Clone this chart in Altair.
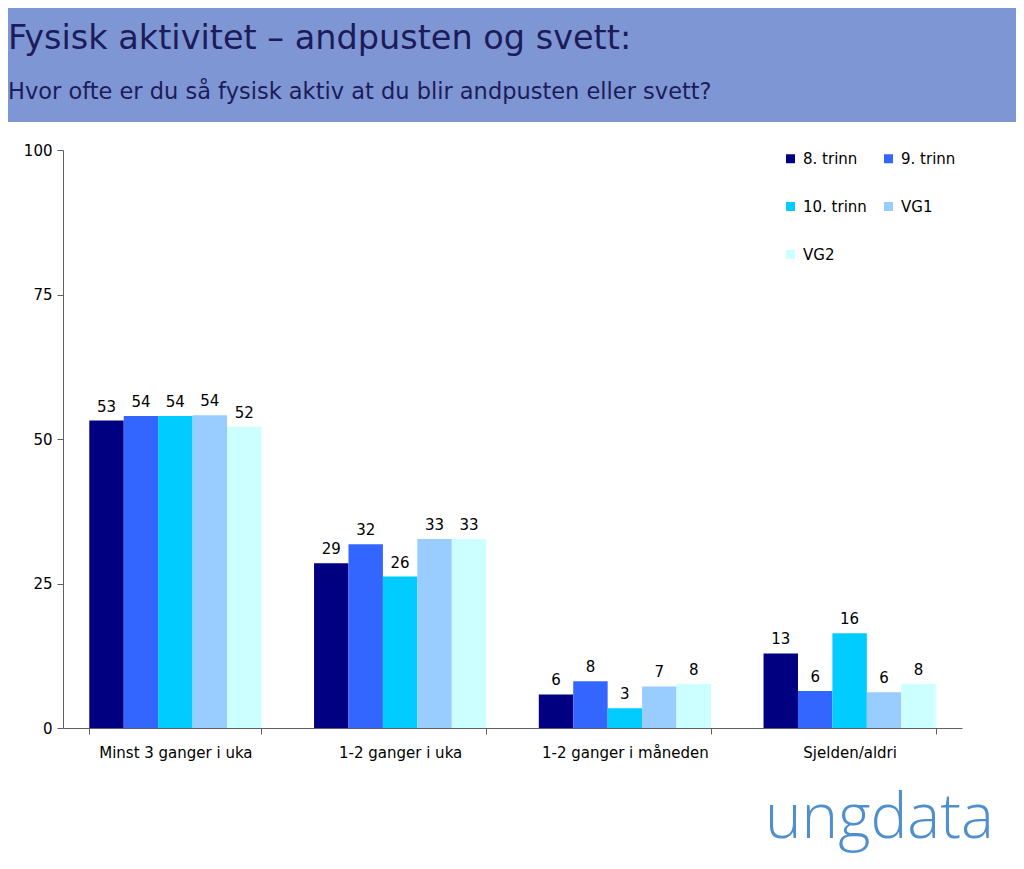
import altair as alt
import pandas as pd

categories = ["Minst 3 ganger i uka", "1-2 ganger i uka", "1-2 ganger i måneden", "Sjelden/aldri"]
series = ["8. trinn", "9. trinn", "10. trinn", "VG1", "VG2"]
colors = ["#000080", "#3366ff", "#00ccff", "#99ccff", "#ccffff"]

v_8 = [53.2, 28.5, 5.8, 12.9]
v_9 = [54.0, 31.8, 8.1, 6.4]
v_10 = [54.0, 26.2, 3.4, 16.4]
v_vg1 = [54.1, 32.7, 7.2, 6.2]
v_vg2 = [52.1, 32.7, 7.6, 7.6]

title_text = "Fysisk aktivitet – andpusten og svett:"
subtitle_text = "Hvor ofte er du så fysisk aktiv at du blir andpusten eller svett?"
logo_text = "ungdata"

rows = []
for s, vals in zip(series, [v_8, v_9, v_10, v_vg1, v_vg2]):
    for c, v in zip(categories, vals):
        rows.append({"category": c, "series": s, "value": v})
df = pd.DataFrame(rows)

FONT = "DejaVu Sans"

base = alt.Chart(df)

x_enc = alt.X("category:N", sort=categories,
              scale=alt.Scale(paddingInner=0.234, paddingOuter=0.117),
              axis=alt.Axis(title=None, labelAngle=0, tickBand="extent"))
xo_enc = alt.XOffset("series:N", sort=series, scale=alt.Scale(paddingInner=0, paddingOuter=0))
y_enc = alt.Y("value:Q", scale=alt.Scale(domain=[0, 100]),
              axis=alt.Axis(title=None, values=[0, 25, 50, 75, 100], grid=False))

bars = base.mark_bar().encode(
    x=x_enc, xOffset=xo_enc, y=y_enc,
    color=alt.Color("series:N", sort=series,
                    scale=alt.Scale(domain=series, range=colors),
                    legend=alt.Legend(title=None, orient="none", legendX=720, legendY=1,
                                      direction="horizontal", columns=2,
                                      symbolType="square", symbolSize=81,
                                      symbolStrokeWidth=0, labelFont=FONT, labelFontSize=15,
                                      labelColor="#000000", labelOffset=5,
                                      rowPadding=32, columnPadding=14)),
)

labels = base.mark_text(baseline="alphabetic", dy=-9, font=FONT, fontSize=15, color="#000000").encode(
    x=x_enc, xOffset=xo_enc, y=y_enc,
    text=alt.Text("value:Q", format=".0f"),
)

one = alt.Data(values=[{"k": 1}])

header = alt.Chart(one).mark_rect(color="#7f96d4").encode(
    x=alt.value(-55), x2=alt.value(953), y=alt.value(-142), y2=alt.value(-28)
)
title = alt.Chart(one).mark_text(align="left", baseline="alphabetic", font=FONT,
                                 fontSize=33.5, color="#1c1c5a").encode(
    x=alt.value(-55), y=alt.value(-101), text=alt.value(title_text)
)
subtitle = alt.Chart(one).mark_text(align="left", baseline="alphabetic", font=FONT,
                                    fontSize=22.5, color="#1c1c5a").encode(
    x=alt.value(-55), y=alt.value(-51), text=alt.value(subtitle_text)
)
logo = alt.Chart(one).mark_text(align="left", baseline="alphabetic", font="Open Sans",
                                fontWeight=300, fontSize=62, color="#4f8fcd").encode(
    x=alt.value(702), y=alt.value(688), text=alt.value(logo_text)
)

chart = alt.layer(header, title, subtitle, bars, labels, logo).properties(
    width=899, height=578,
    autosize=alt.AutoSizeParams(type="none"),
    padding={"left": 55, "top": 142, "right": 54, "bottom": 133},
).configure_view(stroke=None).configure_axis(
    labelFont=FONT, labelFontSize=15, labelColor="#000000",
    domainColor="#606060", tickColor="#606060", tickSize=6,
).configure_axisX(labelPadding=11).configure_axisY(labelPadding=5)

chart.save("out.html", embed_options={"renderer": "svg", "actions": False})
